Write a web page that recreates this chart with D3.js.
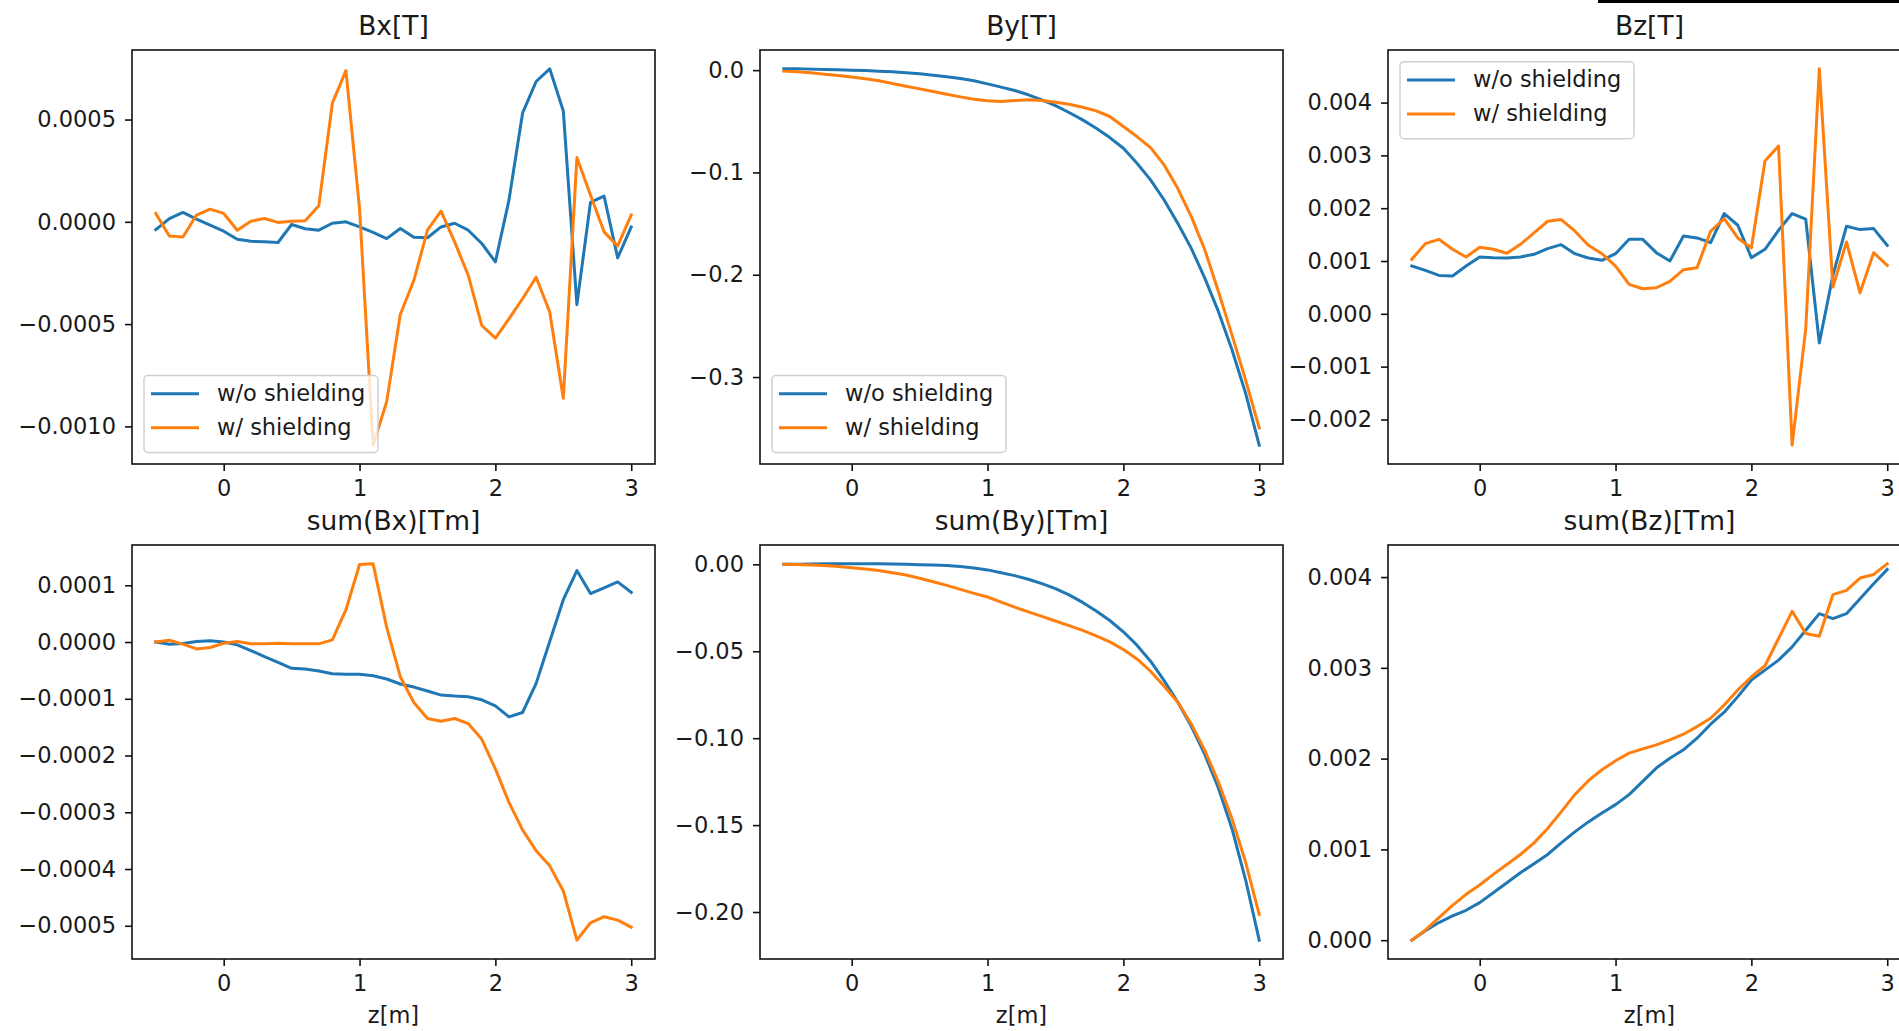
<!DOCTYPE html>
<html>
<head>
<meta charset="utf-8">
<script src="https://cdn.jsdelivr.net/npm/d3@7"></script>
<style>
body{margin:0;background:#fff;}
text{font-family:"DejaVu Sans";fill:#1a1a1a;}
</style>
</head>
<body>
<div id="fig"></div>
<script>
// z positions [m]
const zPos = [-0.5,-0.4,-0.3,-0.2,-0.1,0.0,0.1,0.2,0.3,0.4,0.5,0.6,0.7,0.8,0.9,1.0,1.1,1.2,1.3,1.4,1.5,1.6,1.7,1.8,1.9,2.0,2.1,2.2,2.3,2.4,2.5,2.6,2.7,2.8,2.9,3.0]
const xTicks = [0,1,2,3]
const seriesNames = ["w/o shielding","w/ shielding"]

// Bx[T]
const bxWo = [-0.000038,0.000016,0.000046,0.000013,-0.000016,-0.000046,-0.000085,-0.000095,-0.000098,-0.000101,-0.000013,-0.000034,-0.000041,-0.000007,0.000000,-0.000025,-0.000052,-0.000082,-0.000033,-0.000075,-0.000078,-0.000025,-0.000007,-0.000041,-0.000106,-0.000196,0.000106,0.000531,0.000686,0.000748,0.000542,-0.000405,0.000095,0.000126,-0.000176,-0.000025]
const bxW = [0.000041,-0.000069,-0.000074,0.000033,0.000062,0.000041,-0.000041,0.000003,0.000016,-0.000003,0.000003,0.000005,0.000078,0.000580,0.000739,0.000065,-0.001092,-0.000879,-0.000453,-0.000286,-0.000041,0.000052,-0.000098,-0.000261,-0.000507,-0.000569,-0.000474,-0.000376,-0.000271,-0.000441,-0.000863,0.000314,0.000131,-0.000049,-0.000118,0.000033]
const bxTicks = [-0.001,-0.0005,0,0.0005]

// By[T]
const byWo = [0.0013,0.0013,0.0010,0.0007,0.0003,0.0000,-0.0003,-0.0010,-0.0016,-0.0026,-0.0036,-0.0049,-0.0065,-0.0082,-0.0104,-0.0134,-0.0166,-0.0199,-0.0241,-0.0290,-0.0346,-0.0414,-0.0486,-0.0568,-0.0659,-0.0763,-0.0910,-0.1073,-0.1269,-0.1497,-0.1742,-0.2035,-0.2361,-0.2736,-0.3160,-0.3666]
const byW = [-0.0010,-0.0016,-0.0026,-0.0039,-0.0052,-0.0068,-0.0085,-0.0104,-0.0130,-0.0157,-0.0183,-0.0209,-0.0235,-0.0261,-0.0284,-0.0300,-0.0307,-0.0297,-0.0290,-0.0297,-0.0313,-0.0333,-0.0362,-0.0398,-0.0453,-0.0551,-0.0649,-0.0757,-0.0926,-0.1155,-0.1432,-0.1758,-0.2166,-0.2590,-0.3030,-0.3497]
const byTicks = [-0.3,-0.2,-0.1,0.0]

// Bz[T]
const bzWo = [0.000905,0.000823,0.000728,0.000715,0.000905,0.001076,0.001063,0.001057,0.001076,0.001127,0.001234,0.001310,0.001139,0.001057,0.001013,0.001139,0.001411,0.001411,0.001158,0.001000,0.001475,0.001437,0.001348,0.001899,0.001677,0.001063,0.001222,0.001582,0.001899,0.001791,-0.000551,0.000728,0.001658,0.001595,0.001614,0.001297]
const bzW = [0.001032,0.001329,0.001411,0.001222,0.001076,0.001260,0.001222,0.001146,0.001316,0.001532,0.001753,0.001785,0.001570,0.001297,0.001139,0.000905,0.000557,0.000475,0.000494,0.000614,0.000835,0.000873,0.001563,0.001804,0.001437,0.001247,0.002892,0.003177,-0.002487,-0.000285,0.004639,0.000506,0.001361,0.000399,0.001158,0.000918]
const bzTicks = [-0.002,-0.001,0,0.001,0.002,0.003,0.004]

// sum(Bx)[Tm]
const sumBxWo = [0,-0.0000038,-0.0000027,0.0000009,0.0000021,0,-0.000005,-0.000015,-0.0000257,-0.0000357,-0.0000463,-0.0000475,-0.000051,-0.0000558,-0.000057,-0.000057,-0.0000593,-0.0000652,-0.000074,-0.0000794,-0.0000864,-0.0000935,-0.0000953,-0.0000965,-0.0001018,-0.0001124,-0.0001319,-0.0001242,-0.0000729,0.0000009,0.0000746,0.000126,0.0000853,0.0000953,0.0001059,0.0000876]
const sumBxW = [0,0.0000032,-0.0000038,-0.0000121,-0.0000097,-0.0000021,0.0000009,-0.0000032,-0.0000032,-0.0000021,-0.0000032,-0.0000032,-0.0000032,0.0000038,0.0000569,0.0001366,0.0001378,0.0000257,-0.0000611,-0.0001065,-0.0001348,-0.0001395,-0.0001348,-0.0001437,-0.0001714,-0.0002236,-0.0002826,-0.000331,-0.0003678,-0.0003944,-0.0004386,-0.0005254,-0.0004947,-0.0004841,-0.00049,-0.0005024]
const sumBxTicks = [-0.0005,-0.0004,-0.0003,-0.0002,-0.0001,0,0.0001]

// sum(By)[Tm]
const sumByWo = [0,0.0001,0.0002,0.0003,0.0003,0.0003,0.0003,0.0003,0.0002,0.0001,-0.0002,-0.0004,-0.0007,-0.0013,-0.0021,-0.0032,-0.0048,-0.0065,-0.0086,-0.0111,-0.0140,-0.0176,-0.0219,-0.0269,-0.0323,-0.0388,-0.0465,-0.0557,-0.0669,-0.0792,-0.0932,-0.1095,-0.1288,-0.1522,-0.1816,-0.2162]
const sumByW = [0,-0.00015,-0.00035,-0.00073,-0.0013,-0.0019,-0.0027,-0.0036,-0.0048,-0.0061,-0.0080,-0.0100,-0.0121,-0.0144,-0.0167,-0.0188,-0.0217,-0.0246,-0.0273,-0.0299,-0.0326,-0.0353,-0.0380,-0.0411,-0.0446,-0.0490,-0.0544,-0.0615,-0.0701,-0.0792,-0.0918,-0.1072,-0.1253,-0.1464,-0.1714,-0.2014]
const sumByTicks = [-0.2,-0.15,-0.1,-0.05,0]

// sum(Bz)[Tm]
const sumBzWo = [0,0.000103,0.000194,0.000267,0.000329,0.000414,0.000523,0.000633,0.000743,0.000842,0.000944,0.001072,0.001193,0.001303,0.001402,0.001493,0.001603,0.001749,0.001896,0.002005,0.002097,0.002225,0.002379,0.002511,0.002683,0.002866,0.002975,0.003085,0.003231,0.003414,0.003597,0.003543,0.003597,0.003762,0.003927,0.004084]
const sumBzW = [0,0.00011,0.000249,0.000384,0.000505,0.000608,0.000725,0.000834,0.000944,0.001072,0.00123,0.001413,0.001603,0.001757,0.001877,0.001976,0.00206,0.002108,0.002152,0.002207,0.002269,0.002353,0.002445,0.002591,0.002756,0.002902,0.003023,0.003323,0.003623,0.003378,0.003349,0.003806,0.003854,0.003989,0.004029,0.004146]
const sumBzTicks = [0,0.001,0.002,0.003,0.004]

const colors = ["#1f77b4","#ff7f0e"]

// layout of the 2x3 grid
const colLeft = [132, 760, 1388]
const rowTop = [50, 545]
const W = 523, H = 414

const panels = [
    {title:"Bx[T]", wo:bxWo, w:bxW, ticks:bxTicks, fmt:".4f", col:0, row:0, legend:"bottom"},
    {title:"By[T]", wo:byWo, w:byW, ticks:byTicks, fmt:".1f", col:1, row:0, legend:"bottom"},
    {title:"Bz[T]", wo:bzWo, w:bzW, ticks:bzTicks, fmt:".3f", col:2, row:0, legend:"top"},
    {title:"sum(Bx)[Tm]", wo:sumBxWo, w:sumBxW, ticks:sumBxTicks, fmt:".4f", col:0, row:1},
    {title:"sum(By)[Tm]", wo:sumByWo, w:sumByW, ticks:sumByTicks, fmt:".2f", col:1, row:1},
    {title:"sum(Bz)[Tm]", wo:sumBzWo, w:sumBzW, ticks:sumBzTicks, fmt:".3f", col:2, row:1}
]

let svg = d3.select("#fig").append("svg")
    .attr("width", 1899)
    .attr("height", 1031)

svg.append("rect")
    .attr("width", 1899)
    .attr("height", 1031)
    .attr("fill", "#fff")

// matplotlib like 5% margins
function padded(vals)
{
    let e = d3.extent(vals)
    let m = (e[1]-e[0])*0.05
    return [e[0]-m, e[1]+m]
}

function drawPanel(p)
{
    let g = svg.append("g")
        .attr("transform", "translate(" + colLeft[p.col] + "," + rowTop[p.row] + ")")

    let x = d3.scaleLinear().domain(padded(zPos)).range([0, W])
    let y = d3.scaleLinear().domain(padded(p.wo.concat(p.w))).range([H, 0])

    let yAxis = g.append("g")
        .call(d3.axisLeft(y).tickValues(p.ticks).tickFormat(d3.format(p.fmt))
            .tickSize(7).tickSizeOuter(0).tickPadding(9))
    let xAxis = g.append("g")
        .attr("transform", "translate(0," + H + ")")
        .call(d3.axisBottom(x).tickValues(xTicks).tickFormat(d3.format("d"))
            .tickSize(7).tickSizeOuter(0).tickPadding(9))

    ;[yAxis, xAxis].forEach(a => {
        a.select(".domain").remove()
        a.selectAll("line").attr("stroke", "#111").attr("stroke-width", 1.6)
        a.selectAll("text").style("font-size", "22.5px").attr("fill", "#1a1a1a")
            .style("font-family", "DejaVu Sans")
    })

    let line = d3.line()
        .x((d, i) => x(zPos[i]))
        .y(d => y(d))

    ;[p.wo, p.w].forEach((s, k) => {
        g.append("path")
            .attr("d", line(s))
            .attr("fill", "none")
            .attr("stroke", colors[k])
            .attr("stroke-width", 3)
            .attr("stroke-linejoin", "round")
            .attr("stroke-linecap", "square")
    })

    // frame
    g.append("rect")
        .attr("width", W)
        .attr("height", H)
        .attr("fill", "none")
        .attr("stroke", "#111")
        .attr("stroke-width", 1.6)

    g.append("text")
        .attr("x", W/2)
        .attr("y", -15.5)
        .attr("text-anchor", "middle")
        .style("font-size", "26.5px")
        .text(p.title)

    if (p.row == 1) {
        g.append("text")
            .attr("x", W/2)
            .attr("y", H + 63.5)
            .attr("text-anchor", "middle")
            .style("font-size", "22.5px")
            .text("z[m]")
    }

    if (p.legend) {
        let ly = p.legend == "top" ? 11.7 : H - 11.5 - 77
        let lg = g.append("g").attr("transform", "translate(12," + ly + ")")
        lg.append("rect")
            .attr("width", 234)
            .attr("height", 77)
            .attr("rx", 4)
            .attr("fill", "#fff")
            .attr("fill-opacity", 0.8)
            .attr("stroke", "#d0d0d0")
            .attr("stroke-width", 1.5)
        seriesNames.forEach((n, k) => {
            let yy = 18.3 + k*34
            lg.append("line")
                .attr("x1", 7).attr("x2", 55)
                .attr("y1", yy).attr("y2", yy)
                .attr("stroke", colors[k])
                .attr("stroke-width", 3)
            lg.append("text")
                .attr("x", 73)
                .attr("y", yy + 7.5)
                .style("font-size", "22.5px")
                .text(n)
        })
    }
}

panels.forEach(drawPanel)

// dark strip at the top right edge of the picture
svg.append("rect")
    .attr("x", 1598)
    .attr("y", 0)
    .attr("width", 301)
    .attr("height", 3)
    .attr("fill", "#000")
</script>
</body>
</html>
